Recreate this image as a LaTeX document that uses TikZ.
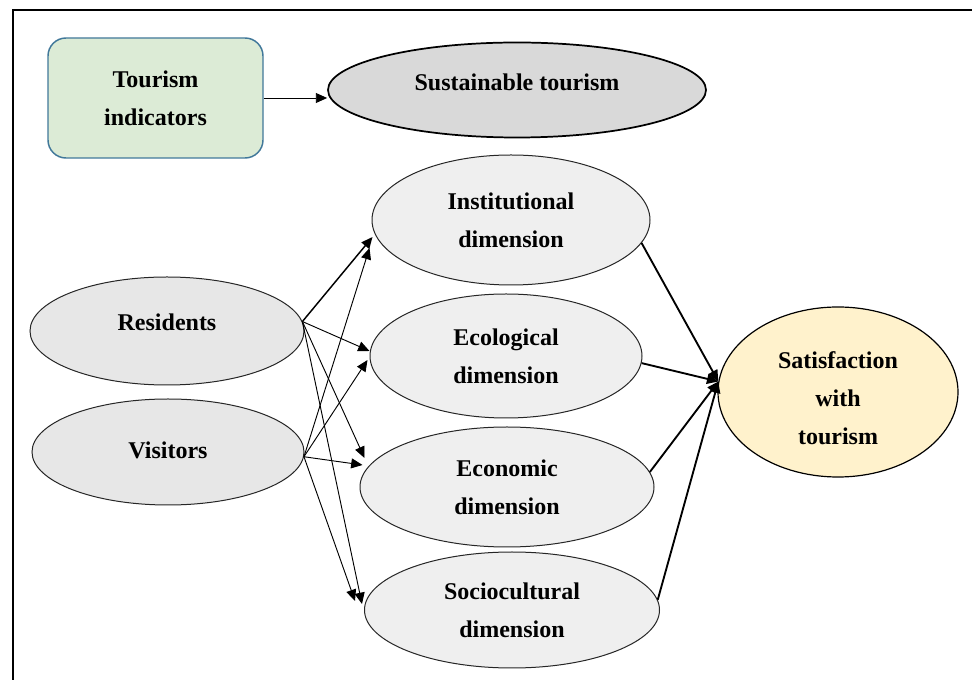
\documentclass[tikz,border=0pt]{standalone}
\usepackage{fontspec}
\setmainfont{Liberation Serif}
\usetikzlibrary{shapes.geometric,arrows.meta}
\definecolor{boxfill}{HTML}{DCEBD6}
\definecolor{boxline}{HTML}{41789A}
\definecolor{sustfill}{HTML}{D9D9D9}
\definecolor{dimfill}{HTML}{EFEFEF}
\definecolor{groupfill}{HTML}{E7E7E7}
\definecolor{satfill}{HTML}{FFF2CC}
\begin{document}
\begin{tikzpicture}[x=0.75pt,y=-0.75pt,
  lbl/.style={font=\fontsize{18}{28.5}\selectfont\bfseries, align=center, text=black},
  oval/.style={ellipse, draw=black!85, line width=0.75pt, inner sep=0pt, lbl},
  tipped/.style={-{Triangle[length=8.5pt,width=7.5pt]}},
  thinarrow/.style={tipped, line width=0.7pt},
  midarrow/.style={tipped, line width=1.1pt},
  heavyarrow/.style={tipped, line width=1.4pt}]
\clip (0,0) rectangle (972,680);
\fill[white] (0,0) rectangle (972,680);
\draw[line width=1.5pt] (13,10) rectangle (1000,720);

\node[rounded corners=13.5pt, draw=boxline, line width=1.1pt, fill=boxfill,
      minimum width=161.25pt, minimum height=90pt, lbl] (ind) at (155.5,98) {Tourism\\indicators};
\node[oval, fill=sustfill, draw=black, line width=1.3pt, text depth=11pt,
      minimum width=283.5pt, minimum height=71.25pt] (sus) at (517,90) {Sustainable tourism};

\node[oval, fill=dimfill, minimum width=208.5pt, minimum height=97.5pt] (inst) at (511,220) {Institutional\\dimension};
\node[oval, fill=dimfill, minimum width=204pt, minimum height=93pt] (eco) at (506,356) {Ecological\\dimension};
\node[oval, fill=dimfill, minimum width=220.5pt, minimum height=90pt] (econ) at (507,487) {Economic\\dimension};
\node[oval, fill=dimfill, minimum width=221.25pt, minimum height=87pt] (socio) at (512,610) {Sociocultural\\dimension};

\node[oval, fill=groupfill, text depth=13pt, minimum width=205.5pt, minimum height=81pt] (res) at (167,331) {Residents};
\node[oval, fill=groupfill, text depth=3pt, minimum width=204pt, minimum height=79.5pt] (vis) at (168,452) {Visitors};

\node[oval, fill=satfill, draw=black, line width=0.9pt, minimum width=180pt, minimum height=127.5pt] (sat) at (838,392) {\\[-6pt]Satisfaction\\with\\tourism};

% top arrow
\draw[thinarrow] (ind) -- (sus.west |- ind);

% residents
\draw[midarrow] (res.4) -- ([shift={(1,17)}]inst.west);
\draw[thinarrow] (res.4) -- ([shift={(0,-5)}]eco.west);
\draw[thinarrow] (res.4) -- ([shift={(5,-29)}]econ.west);
\draw[thinarrow] (res.4) -- ([shift={(-2,-6)}]socio.west);

% visitors
\draw[thinarrow] (vis.-2) -- ([shift={(-2,28)}]inst.west);
\draw[thinarrow] (vis.-2) -- ([shift={(-2,4)}]eco.west);
\draw[thinarrow] (vis.-2) -- ([shift={(3,-22)}]econ.west);
\draw[thinarrow] (vis.-2) -- ([shift={(-9,-9)}]socio.west);

% to satisfaction
\draw[heavyarrow] (inst.-10) -- (sat.175);
\draw[heavyarrow] (eco.-3) -- (sat.175);
\draw[heavyarrow] (econ.6) -- (sat.175);
\draw[heavyarrow] (socio.4) -- (sat.175);
\end{tikzpicture}
\end{document}
